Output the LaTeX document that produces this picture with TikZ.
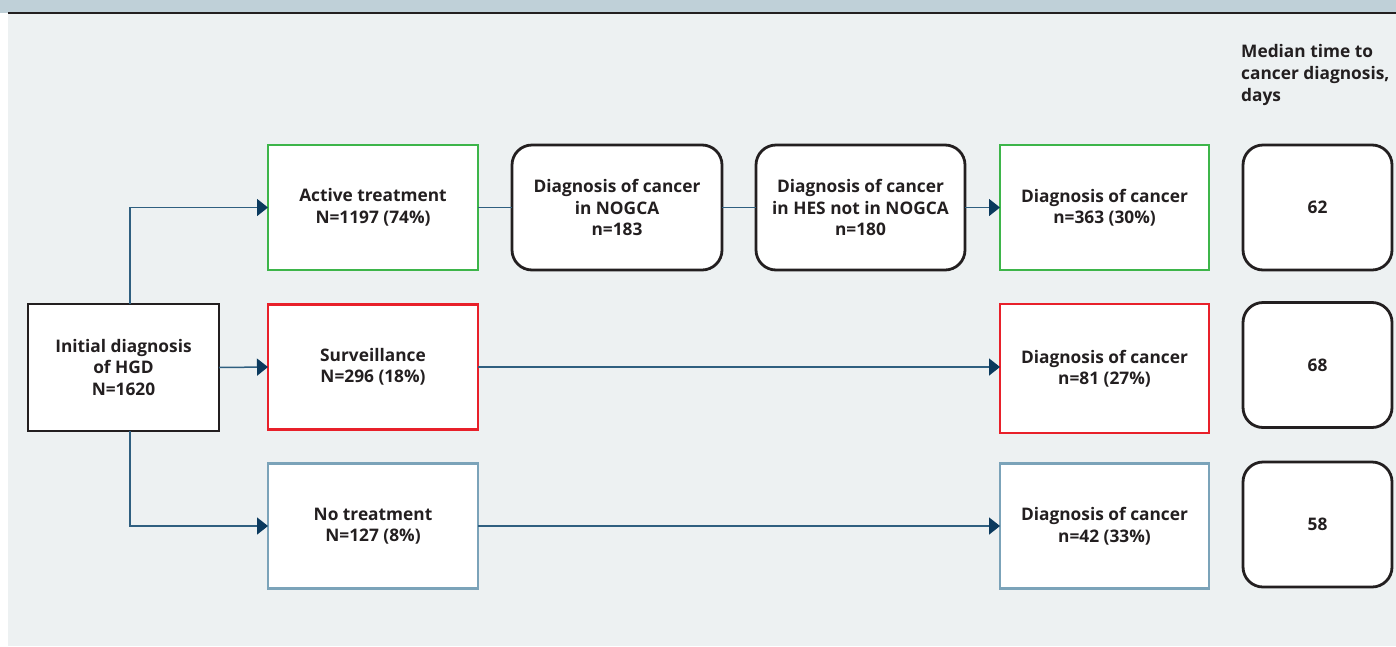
\documentclass[tikz,border=0pt]{standalone}
\usepackage{fontspec}
\setmainfont{Open Sans}
\usetikzlibrary{arrows.meta}
\definecolor{bandc}{HTML}{BFD0D8}
\definecolor{bgc}{HTML}{EDF1F2}
\definecolor{txtc}{HTML}{231F20}
\definecolor{greenc}{HTML}{3DB54A}
\definecolor{redc}{HTML}{E8202A}
\definecolor{bluec}{HTML}{7BA3B9}
\definecolor{linec}{HTML}{2F5F80}
\definecolor{headc}{HTML}{0B3A5E}
\tikzset{
  box/.style={draw, fill=white, line width=2.8pt, minimum width=210pt, minimum height=125pt,
    inner sep=0pt, outer sep=0pt, align=center, text=txtc,
    font=\bfseries\fontsize{17.3}{21.5}\selectfont},
  rbox/.style={box, draw=txtc, rounded corners=20pt},
  conn/.style={draw=linec, line width=1.5pt},
  arr/.style={conn, -{Triangle[length=11pt,width=17pt,color=headc]}},
}
\begin{document}
\begin{tikzpicture}[x=1pt,y=-1pt]
\useasboundingbox (0,0) rectangle (1396,646);
\fill[bandc] (0,0) rectangle (1396,13);
\fill[bgc] (8,14) rectangle (1396,646);
\draw[txtc, line width=1.5pt] (8,13) -- (1396,13);
% nodes
\node[box, draw=txtc, minimum width=191pt, minimum height=127pt] (init) at (123.5,367.5) {Initial diagnosis\\of HGD\\N=1620};
\node[box, draw=greenc] (act) at (373,207.5) {Active treatment\\N=1197 (74\%)};
\node[box, draw=redc] (surv) at (373,367) {Surveillance\\N=296 (18\%)};
\node[box, draw=bluec] (notr) at (373,526) {No treatment\\N=127 (8\%)};
\node[rbox] (nog) at (617,207.5) {Diagnosis of cancer\\in NOGCA\\n=183};
\node[rbox, minimum width=209pt] (hes) at (860.5,207.5) {Diagnosis of cancer\\in HES not in NOGCA\\n=180};
\node[box, draw=greenc, minimum width=209pt] (d1) at (1104.5,207.5) {Diagnosis of cancer\\n=363 (30\%)};
\node[box, draw=redc, minimum width=209pt, minimum height=129pt] (d2) at (1104.5,368.5) {Diagnosis of cancer\\n=81 (27\%)};
\node[box, draw=bluec, minimum width=209pt] (d3) at (1104.5,526) {Diagnosis of cancer\\n=42 (33\%)};
\node[rbox, minimum width=149pt] (m1) at (1317.5,207.5) {62};
\node[rbox, minimum width=149pt] (m2) at (1317.5,365) {68};
\node[rbox, minimum width=149pt] (m3) at (1317.5,524.5) {58};
\node[anchor=north west, inner sep=0pt, align=left, text=txtc,
  font=\bfseries\fontsize{17.3}{22}\selectfont] (hdr) at (1241,44) {Median time to\\cancer diagnosis,\\days};
% connectors
\coordinate (bx) at (130,0);
\draw[arr] (init.north -| bx) |- (act.west);
\draw[arr] (init.south -| bx) |- (notr.west);
\draw[arr] (init.east) -- (surv.west);
\draw[conn] (act.east) -- (nog.west);
\draw[conn] (nog.east) -- (hes.west);
\draw[arr] (hes.east) -- (d1.west);
\draw[arr] (surv.east) -- (surv.east -| d2.west);
\draw[arr] (notr.east) -- (d3.west);
\end{tikzpicture}
\end{document}
